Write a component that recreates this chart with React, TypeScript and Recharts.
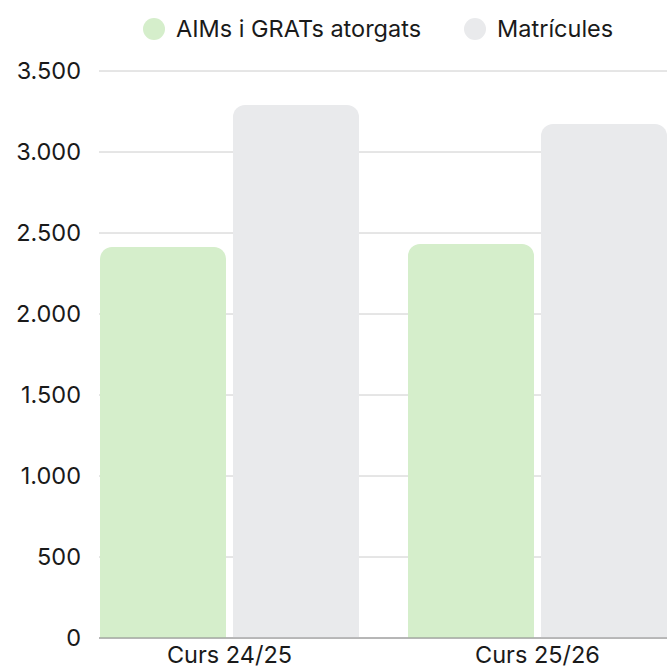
import React from "react";
import {
  BarChart,
  Bar,
  XAxis,
  YAxis,
  CartesianGrid,
  Legend,
} from "recharts";

const courses = ["Curs 24/25", "Curs 25/26"];
const aimsGrats = [2413, 2432];
const matricules = [3290, 3173];
const yTicks = [0, 500, 1000, 1500, 2000, 2500, 3000, 3500];

const GREEN = "#d5eecb";
const GREY = "#e9eaec";
const TEXT = "#1a1a1a";

const data = courses.map((name, i) => ({
  name,
  aims: aimsGrats[i],
  matricules: matricules[i],
}));

const fmt = (v: number) => v.toString().replace(/\B(?=(\d{3})+(?!\d))/g, ".");

function LegendContent() {
  const items = [
    { label: "AIMs i GRATs atorgats", color: GREEN },
    { label: "Matrícules", color: GREY },
  ];
  return (
    <div style={{ display: "flex", gap: 43, paddingLeft: 143, lineHeight: "28px" }}>
      {items.map((it) => (
        <div key={it.label} style={{ display: "flex", alignItems: "center" }}>
          <span
            style={{
              width: 22,
              height: 22,
              borderRadius: "50%",
              background: it.color,
              display: "inline-block",
              marginRight: 11,
            }}
          />
          <span style={{ fontSize: 23.5, color: TEXT }}>{it.label}</span>
        </div>
      ))}
    </div>
  );
}

export default function App() {
  return (
    <div
      style={{
        position: "absolute",
        left: 0,
        top: 0,
        width: 667,
        height: 669,
        overflow: "hidden",
        fontFamily: "Inter, sans-serif",
        background: "#fff",
      }}
    >
      <BarChart
        width={667}
        height={669}
        data={data}
        margin={{ top: 43, right: 0, bottom: 0, left: 0 }}
        barGap={7}
        barCategoryGap={24.5}
      >
        <CartesianGrid vertical={false} stroke="#cccccc" />
        <XAxis
          dataKey="name"
          scale="point"
          padding={{ left: 130.5, right: 129.5 }}
          height={31}
          tickLine={false}
          axisLine={{ stroke: "#888" }}
          tick={{ fontSize: 23.5, fill: TEXT }}
          tickMargin={2}
        />
        <YAxis
          width={99}
          domain={[0, 3500]}
          ticks={yTicks}
          interval={0}
          tickFormatter={fmt}
          axisLine={false}
          tickLine={false}
          tickMargin={12}
          tick={{ fontSize: 23.5, fill: TEXT }}
        />
        <Legend
          verticalAlign="top"
          content={<LegendContent />}
          wrapperStyle={{ top: 15, left: 0, width: 667 }}
        />
        <Bar dataKey="aims" name="AIMs i GRATs atorgats" fill={GREEN} radius={[12, 12, 0, 0]} isAnimationActive={false} />
        <Bar dataKey="matricules" name="Matrícules" fill={GREY} radius={[12, 12, 0, 0]} isAnimationActive={false} />
      </BarChart>
    </div>
  );
}
